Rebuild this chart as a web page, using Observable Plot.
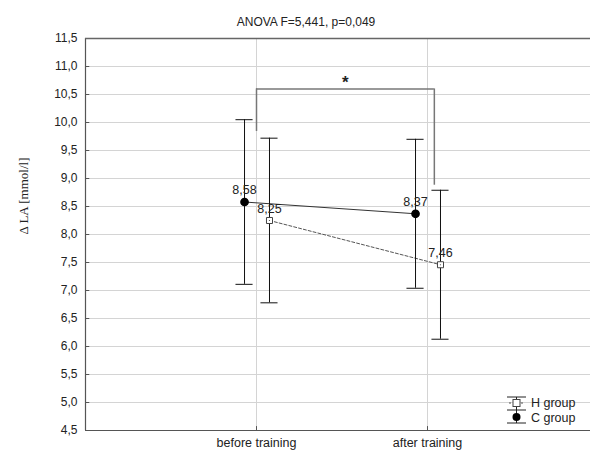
<!DOCTYPE html>
<html><head><meta charset="utf-8">
<script src="https://cdn.jsdelivr.net/npm/d3@7"></script>
<script src="https://cdn.jsdelivr.net/npm/@observablehq/plot@0.6"></script>
<style>
body{margin:0;background:#fff;overflow:hidden;}
#chart svg{display:block;overflow:hidden;}
</style></head><body>
<div id="chart"></div>
<script>
const title = "ANOVA F=5,441, p=0,049";
const yLabel = "Δ LA [mmol/l]";
const categories = ["before training", "after training"];
const groups = ["H group", "C group"];
const cMeans = [8.58, 8.37];
const cErr = [1.47, 1.33];
const hMeans = [8.25, 7.46];
const hErr = [1.47, 1.33];
const yTicks = [4.5, 5.0, 5.5, 6.0, 6.5, 7.0, 7.5, 8.0, 8.5, 9.0, 9.5, 10.0, 10.5, 11.0, 11.5];
const bracketTop = [10.6];
const bracketEnds = [9.84, 8.88];
const bracketLabel = ["*"];

const fmt1 = d => d.toFixed(1).replace(".", ",");
const fmt2 = d => d.toFixed(2).replace(".", ",");

const off = {C: -0.07, H: 0.076};
const rows = [];
categories.forEach((c, i) => {
  rows.push({group: "C", cat: i + 1, mean: cMeans[i], err: cErr[i]});
  rows.push({group: "H", cat: i + 1, mean: hMeans[i], err: hErr[i]});
});
const cRows = rows.filter(d => d.group === "C");
const hRows = rows.filter(d => d.group === "H");
const xp = d => d.cat + off[d.group];
const capW = 0.05;

const bracketX = [1.0, 2.04];
const bracketLegs = bracketX.map((x, i) => ({x, y1: bracketEnds[i], y2: bracketTop[0]}));

const axisColor = "#555";
const gridColor = "#d4d4d4";

const chart = Plot.plot({
  width: 590,
  height: 453,
  marginLeft: 85,
  marginRight: 0,
  marginTop: 38,
  marginBottom: 23,
  style: {fontFamily: "'Liberation Sans', Arial, sans-serif", fontSize: "12px", color: "#222", background: "#fff"},
  x: {domain: [0, 505 / 171], axis: null, label: null},
  y: {domain: [4.5, 11.5], axis: null, label: null},
  marks: [
    Plot.gridY(yTicks, {stroke: gridColor, strokeOpacity: 1}),
    Plot.gridX([1, 2], {stroke: gridColor, strokeOpacity: 1}),
    Plot.ruleY(yTicks, {x1: 0, x2: 0.025, stroke: axisColor}),
    Plot.ruleX([1, 2], {y1: 4.5, y2: 4.57, stroke: axisColor}),
    Plot.ruleX([0], {stroke: axisColor, strokeWidth: 1.2}),
    Plot.ruleY([4.5], {stroke: axisColor, strokeWidth: 1.2}),
    Plot.ruleY([11.5], {stroke: "#666", strokeWidth: 1.5}),
    Plot.axisY(yTicks, {tickSize: 0, tickPadding: 8, tickFormat: fmt1, fontSize: 12, fill: "#222", label: null}),
    Plot.axisX([1, 2], {tickSize: 0, tickPadding: 8, tickFormat: i => categories[i - 1], fontSize: 12.5, fill: "#222", label: null}),
    Plot.text([yLabel], {frameAnchor: "left", dx: -62, rotate: -90, fontFamily: "'Liberation Serif', 'Times New Roman', serif", fontSize: 13, fill: "#222"}),
    Plot.text([title], {frameAnchor: "top", dx: -32, dy: -21, fontSize: 12, fill: "#222"}),
    // bracket
    Plot.ruleX(bracketLegs, {x: "x", y1: "y1", y2: "y2", stroke: "#777", strokeWidth: 1.5}),
    Plot.ruleY(bracketTop, {x1: bracketX[0], x2: bracketX[1], stroke: "#777", strokeWidth: 1.5}),
    Plot.text(bracketLabel, {x: (bracketX[0] + bracketX[1]) / 2, y: bracketTop[0], dy: -6, fontSize: 17, fontWeight: "bold", fill: "#222"}),
    // lines
    Plot.line(hRows, {x: xp, y: "mean", stroke: "#555", strokeDasharray: "3,2", strokeWidth: 1}),
    Plot.line(cRows, {x: xp, y: "mean", stroke: "#333", strokeWidth: 1}),
    // error bars
    Plot.ruleX(rows, {x: xp, y1: d => d.mean - d.err, y2: d => d.mean + d.err, stroke: "#111", strokeWidth: 1}),
    Plot.ruleY(rows, {y: d => d.mean + d.err, x1: d => xp(d) - capW, x2: d => xp(d) + capW, stroke: "#111", strokeWidth: 1}),
    Plot.ruleY(rows, {y: d => d.mean - d.err, x1: d => xp(d) - capW, x2: d => xp(d) + capW, stroke: "#111", strokeWidth: 1}),
    // points
    Plot.dot(cRows, {x: xp, y: "mean", r: 3.6, fill: "#000", stroke: "#000"}),
    Plot.dot(hRows, {x: xp, y: "mean", symbol: "square", r: 3.4, fill: "#fff", stroke: "#444", strokeWidth: 1}),
    Plot.dot(hRows, {x: xp, y: "mean", r: 0.6, fill: "#444"}),
    // labels
    Plot.text(rows, {x: xp, y: "mean", text: d => fmt2(d.mean), dy: -12, fontSize: 12.5, fill: "#222"})
  ]
});
document.getElementById("chart").appendChild(chart);

// legend (pixel layout, bottom-right inside frame)
const svg = d3.select(chart);
const lg = svg.append("g").attr("font-family", "'Liberation Sans', Arial, sans-serif").attr("font-size", 12.5).attr("fill", "#222").attr("text-anchor", "start");
const gx0 = 507, gx1 = 526, gxm = 516.5;
[397, 410, 423].forEach(y => lg.append("line").attr("x1", gx0).attr("x2", gx1).attr("y1", y).attr("y2", y).attr("stroke", "#222"));
lg.append("line").attr("x1", gx0 + 2).attr("x2", gx1 - 2).attr("y1", 403).attr("y2", 403).attr("stroke", "#555").attr("stroke-dasharray", "2,2");
lg.append("line").attr("x1", gxm).attr("x2", gxm).attr("y1", 397).attr("y2", 423).attr("stroke", "#222");
lg.append("rect").attr("x", gxm - 3.5).attr("y", 403 - 3.5).attr("width", 7).attr("height", 7).attr("fill", "#fff").attr("stroke", "#444");
lg.append("circle").attr("cx", gxm).attr("cy", 417).attr("r", 4).attr("fill", "#000");
lg.append("text").attr("x", 531).attr("y", 407).text(groups[0]);
lg.append("text").attr("x", 531).attr("y", 422).text(groups[1]);
</script>
</body></html>
